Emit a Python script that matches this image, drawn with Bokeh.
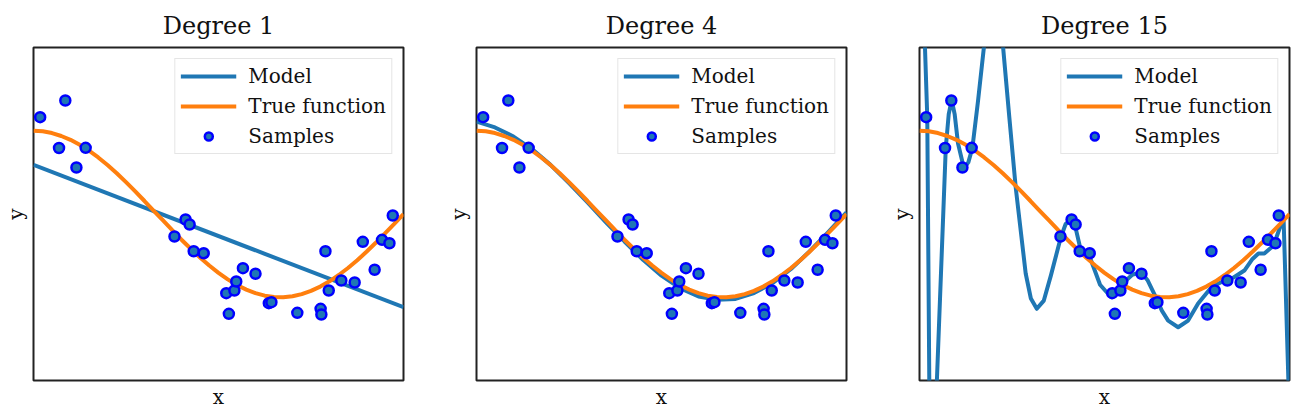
from bokeh.plotting import figure
from bokeh.layouts import row
from bokeh.models import Range1d
from bokeh.embed import file_html
from bokeh.resources import INLINE

# Samples
sample_x = [0.018, 0.069, 0.086, 0.116, 0.141, 0.381, 0.411, 0.422, 0.433, 0.460,
            0.521, 0.528, 0.543, 0.548, 0.566, 0.600, 0.636, 0.643, 0.713, 0.776,
            0.778, 0.789, 0.798, 0.832, 0.868, 0.890, 0.922, 0.942, 0.962, 0.971]
sample_y = [1.163, 0.793, 1.363, 0.559, 0.795, -0.270, -0.066, -0.126, -0.447, -0.471,
            -0.951, -1.199, -0.919, -0.811, -0.651, -0.718, -1.071, -1.059, -1.187, -1.139,
            -1.207, -0.447, -0.919, -0.799, -0.823, -0.334, -0.670, -0.310, -0.351, -0.018]

# True function (read at regular x)
true_x = [0.0, 0.025, 0.05, 0.075, 0.1, 0.125, 0.15, 0.175, 0.2, 0.225, 0.25, 0.275,
          0.3, 0.325, 0.35, 0.375, 0.4, 0.425, 0.45, 0.475, 0.5, 0.525, 0.55, 0.575,
          0.6, 0.625, 0.65, 0.675, 0.7, 0.725, 0.75, 0.775, 0.8, 0.825, 0.85, 0.875,
          0.9, 0.925, 0.95, 0.975, 1.0]
true_y = [1.0, 0.993, 0.972, 0.937, 0.891, 0.831, 0.760, 0.679, 0.588, 0.489, 0.383, 0.271,
          0.156, 0.039, -0.078, -0.195, -0.309, -0.418, -0.522, -0.619, -0.707, -0.785, -0.853, -0.908,
          -0.951, -0.981, -0.997, -0.999, -0.988, -0.962, -0.924, -0.872, -0.809, -0.733, -0.649, -0.556,
          -0.454, -0.346, -0.233, -0.118, 0.0]

# Degree 1 model
deg1_x = [0.0, 1.0]
deg1_y = [0.59, -1.12]

# Degree 4 model
deg4_x = [0.0, 0.05, 0.1, 0.15, 0.2, 0.25, 0.3, 0.35, 0.4, 0.45, 0.5,
          0.55, 0.6, 0.65, 0.7, 0.75, 0.8, 0.85, 0.9, 0.95, 1.0]
deg4_y = [1.11, 1.04, 0.93, 0.78, 0.59, 0.37, 0.14, -0.10, -0.33, -0.55, -0.74,
          -0.89, -0.99, -1.03, -1.02, -0.95, -0.83, -0.66, -0.45, -0.22, 0.02]

# Degree 15 model
deg15_x = [0.0, 0.021, 0.027, 0.037, 0.047, 0.071, 0.079, 0.087, 0.095, 0.104, 0.120,
           0.132, 0.143, 0.158, 0.174, 0.200, 0.226, 0.243, 0.260, 0.287, 0.301, 0.317,
           0.336, 0.355, 0.382, 0.395, 0.409, 0.422, 0.436, 0.463, 0.488, 0.518, 0.553,
           0.575, 0.599, 0.617, 0.634, 0.655, 0.672, 0.699, 0.726, 0.753, 0.789, 0.824,
           0.850, 0.878, 0.900, 0.916, 0.932, 0.957, 0.975, 0.984, 0.997, 1.0]
deg15_y = [4.0, 1.163, -2.3, -3.0, -2.0, 0.795, 1.20, 1.372, 1.20, 0.85, 0.55,
           0.62, 0.795, 1.35, 2.0, 2.7, 2.0, 1.15, 0.32, -0.715, -1.015, -1.139,
           -1.04, -0.74, -0.279, -0.12, -0.078, -0.17, -0.438, -0.55, -0.85, -1.0, -0.819,
           -0.73, -0.699, -0.80, -0.955, -1.16, -1.28, -1.36, -1.28, -1.075, -0.879, -0.799,
           -0.76, -0.679, -0.54, -0.474, -0.474, -0.378, -0.15, -0.054, -2.0, -3.0]

titles = ["Degree 1", "Degree 4", "Degree 15"]
models = [(deg1_x, deg1_y), (deg4_x, deg4_y), (deg15_x, deg15_y)]

FONT = "DejaVu Serif"
figs = []
for i, (title, (mx, my)) in enumerate(zip(titles, models)):
    w = 443 if i < 2 else 412
    p = figure(width=w, height=414, output_backend="svg", toolbar_location=None,
               x_range=Range1d(0, 1), y_range=Range1d(-2, 2),
               min_border_left=33, min_border_right=(40 if i < 2 else 9),
               min_border_top=47, min_border_bottom=34, title=title)
    p.title.text_font = FONT
    p.title.text_font_size = "24px"
    p.title.text_font_style = "normal"
    p.title.align = "center"
    p.title.text_color = "#111111"
    p.title.standoff = 16
    p.line(mx, my, color="#1f77b4", line_width=4, legend_label="Model", line_join="round")
    p.line(true_x, true_y, color="#ff7f0e", line_width=4, legend_label="True function")
    p.scatter(sample_x, sample_y, size=10, fill_color="#1f77b4", line_color="#0000ff",
              line_width=2.5, legend_label="Samples")
    for ax in (p.xaxis, p.yaxis):
        ax.ticker = []
        ax.axis_line_color = None
        ax.major_tick_line_color = None
        ax.minor_tick_line_color = None
        ax.major_label_text_font_size = "0px"
        ax.axis_label_text_font = FONT
        ax.axis_label_text_font_size = "20px"
        ax.axis_label_text_font_style = "normal"
        ax.axis_label_text_color = "#111111"
    p.xaxis.axis_label = "x"
    p.yaxis.axis_label = "y"
    p.xaxis.axis_label_standoff = 4
    p.yaxis.axis_label_standoff = 6
    p.grid.visible = False
    p.outline_line_color = "#222222"
    p.outline_line_width = 2
    p.background_fill_color = "white"
    p.border_fill_color = "white"
    lg = p.legend[0]
    lg.location = "top_right"
    lg.margin = 11
    lg.padding = 5
    lg.spacing = 6
    lg.glyph_width = 56
    lg.glyph_height = 20
    lg.label_height = 20
    lg.label_standoff = 12
    lg.label_text_font = FONT
    lg.label_text_font_size = "20px"
    lg.label_text_color = "#111111"
    lg.border_line_color = "#cccccc"
    lg.border_line_width = 1.5
    lg.background_fill_alpha = 0.8
    figs.append(p)

layout = row(*figs)
open("out.html", "w").write(file_html(layout, INLINE))
